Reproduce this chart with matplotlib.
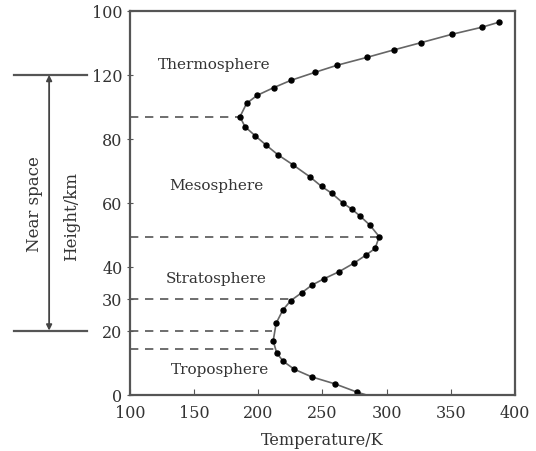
import matplotlib
matplotlib.use("Agg")
import matplotlib.pyplot as plt
import matplotlib.transforms as mtransforms

# Temperature profile (bottom to top)
temperature = [283, 277.2, 259.9, 241.7, 228.0, 219.4, 214.3, 211.6, 213.9, 219.2,
               225.4, 234.0, 241.7, 251.1, 262.8, 274.5, 283.8, 291.0, 294.2, 286.9,
               279.4, 273.1, 265.7, 257.1, 249.3, 240.2, 226.9, 215.3, 205.9, 197.4,
               189.6, 185.7, 190.9, 199.1, 211.9, 225.4, 244.1, 261.2, 284.8, 305.4,
               326.9, 350.8, 374.1, 387.6]
height = [0, 0.7, 3.3, 5.5, 7.9, 10.4, 13.0, 16.8, 22.3, 26.5,
          29.4, 31.9, 34.2, 36.2, 38.4, 41.1, 43.6, 45.7, 49.4, 53.0,
          55.8, 57.9, 60.0, 63.0, 65.1, 68.1, 71.9, 75.0, 78.1, 81.0,
          83.8, 86.9, 91.1, 93.6, 96.0, 98.3, 100.8, 103.0, 105.5, 107.8,
          110.1, 112.7, 114.9, 116.5]

# layer boundaries (dashed lines) and where they meet the curve
boundary_h = [14.2, 20, 30, 49.4, 86.9]
boundary_t = [212, 211, 224, 294, 186]

layer_names = ["Troposphere", "Stratosphere", "Mesosphere", "Thermosphere"]
layer_t = [170, 167, 167, 166]
layer_h = [8, 36.6, 65.5, 103.5]

ytick_pos = [0, 20, 30, 40, 60, 80, 100, 120]
ytick_lab = ["0", "20", "30", "40", "60", "80", "120", "100"]
xtick_pos = [100, 150, 200, 250, 300, 350, 400]

near_space = (20, 100)

plt.rcParams["font.family"] = "DejaVu Serif"
fig = plt.figure(figsize=(5.36, 4.52), dpi=100)
ax = fig.add_axes([0.2425, 0.125, 0.7183, 0.8485])

spine_col = "#555555"
for s in ax.spines.values():
    s.set_color(spine_col)
    s.set_linewidth(1.6)

for h, t in zip(boundary_h, boundary_t):
    ax.plot([100, t], [h, h], color="#555555", lw=1.2, ls=(0, (5, 4)))

ax.plot(temperature, height, color="#666666", lw=1.2, marker="o", ms=3.6,
        mfc="black", mec="black", markevery=slice(1, None), clip_on=False)

for name, t, h in zip(layer_names, layer_t, layer_h):
    ax.text(t, h, name, fontsize=11, color="#333333", ha="center", va="center")

ax.set_xlim(100, 400)
ax.set_ylim(0, 120)
ax.set_xticks(xtick_pos)
ax.set_yticks(ytick_pos)
ax.set_yticklabels(ytick_lab)
ax.tick_params(axis="x", direction="in", length=4, labelsize=11.5, pad=7)
ax.tick_params(axis="y", direction="inout", length=5, labelsize=11.5, pad=3)
ax.tick_params(colors=spine_col, which="both", labelcolor="#333333")

ax.set_xlabel("Temperature/K", fontsize=11.5, color="#333333", labelpad=7)
ax.set_ylabel("Height/km", fontsize=12, color="#333333")
ax.yaxis.set_label_coords(-0.13, 0.468)

# Near space bracket on the left, outside the axes
trans = mtransforms.blended_transform_factory(ax.transAxes, ax.transData)
for h in near_space:
    ax.plot([-0.301, -0.112], [h, h], color="#555555", lw=1.6,
            transform=trans, clip_on=False)
ax.annotate("", xy=(-0.21, near_space[1]), xytext=(-0.21, near_space[0]),
            xycoords=trans, textcoords=trans,
            arrowprops=dict(arrowstyle="<|-|>", color="#444444", lw=1.3,
                            mutation_scale=8, shrinkA=0, shrinkB=0))
ax.text(-0.247, sum(near_space) / 2, "Near space", transform=trans,
        rotation=90, ha="center", va="center", fontsize=12, color="#333333")

fig.savefig("out.png", dpi=100)
